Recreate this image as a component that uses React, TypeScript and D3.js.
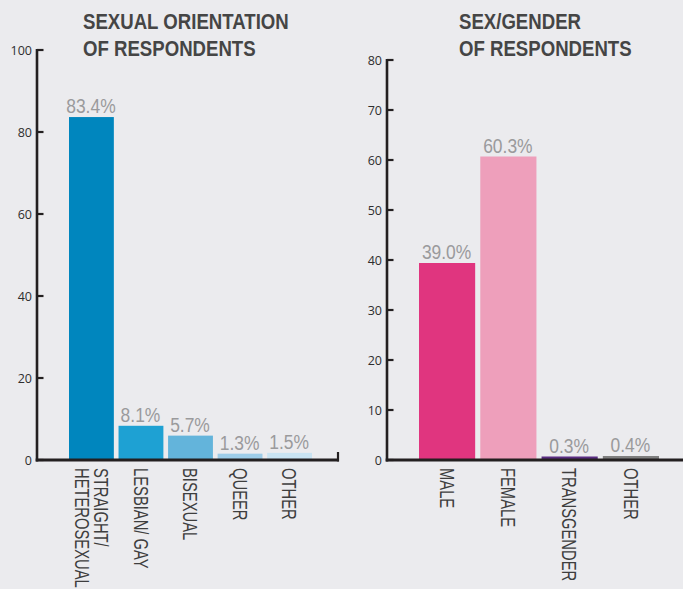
import React from "react";
import * as d3 from "d3";

const orientCategories = ["STRAIGHT/|HETEROSEXUAL", "LESBIAN/ GAY", "BISEXUAL", "QUEER", "OTHER"];
const orientValues = [83.4, 8.1, 5.7, 1.3, 1.5];
const orientColors = ["#0086BE", "#1EA1D3", "#63B4DB", "#9DCCE8", "#C9E3F2"];
const orientTicks = [0, 20, 40, 60, 80, 100];
const orientTitle = ["SEXUAL ORIENTATION", "OF RESPONDENTS"];

const genderCategories = ["MALE", "FEMALE", "TRANSGENDER", "OTHER"];
const genderValues = [39.0, 60.3, 0.3, 0.4];
const genderColors = ["#E0357F", "#EE9FBB", "#5A2D82", "#7F7F7F"];
const genderTicks = [0, 10, 20, 30, 40, 50, 60, 70, 80];
const genderTitle = ["SEX/GENDER", "OF RESPONDENTS"];

const SANS = "'Liberation Sans', Arial, sans-serif";
const TICKFONT = "'Open Sans', 'Noto Sans', sans-serif";
const AXIS = "#231F20";
const SQ = 0.82; // horizontal condensing for titles
const SQV = 0.83; // condensing for value labels
const SQL = 0.72; // condensing for category labels

type PanelProps = {
  cats: string[];
  vals: number[];
  colors: string[];
  ticks: number[];
  title: string[];
  axisX: number;
  axisRight: number;
  yMax: number;
  yTop: number;
  barLift: number;
  bandStart: number;
  bandStep: number;
  barW: number;
  titleX: number;
  endTick: boolean;
};

function Panel(p: PanelProps) {
  const y0 = 460;
  const y = d3.scaleLinear().domain([0, p.yMax]).range([y0, p.yTop]);
  const yb = d3.scaleLinear().domain([0, p.yMax]).range([y0 - p.barLift, p.yTop - p.barLift]);
  const x = d3
    .scaleBand<string>()
    .domain(p.cats)
    .range([p.bandStart, p.bandStart + p.bandStep * p.cats.length])
    .paddingInner((p.bandStep - p.barW) / p.bandStep)
    .paddingOuter(0);
  const fmt = (v: number) => v.toFixed(1) + "%";
  return (
    <g>
      <g transform={`translate(${p.titleX},0) scale(${SQ},1)`}>
        <text fontFamily={SANS} fontWeight="bold" fontSize={22.7} fill="#454545">
          {p.title.map((t, i) => (
            <tspan key={i} x={0} y={29 + i * 27}>
              {t}
            </tspan>
          ))}
        </text>
      </g>
      {/* bars */}
      {p.cats.map((c, i) => {
        const bx = x(c)!;
        const bw = x.bandwidth();
        const top = yb(p.vals[i]);
        return (
          <g key={c}>
            <rect x={bx} y={top} width={bw} height={y0 - top} fill={p.colors[i]} />
            <g transform={`translate(${bx + bw / 2 - 0.5},${top - 4}) scale(${SQV},1)`}>
              <text x={0} y={0} textAnchor="middle" fontFamily={SANS} fontSize={21} fill="#9A9A9C">
                {fmt(p.vals[i])}
              </text>
            </g>
          </g>
        );
      })}
      {/* category labels */}
      {p.cats.map((c) => {
        const lines = c.split("|");
        const cx = x(c)! + x.bandwidth() / 2;
        const lh = 19;
        return (
          <g key={"l" + c} transform={`translate(${cx},${y0 + 8}) rotate(90) scale(${SQL},1)`}>
            <text fontFamily={SANS} fontSize={20.5} fill="#3E3E3E">
              {lines.map((l, i) => (
                <tspan key={i} x={0} y={-((lines.length - 1) * lh) / 2 + i * lh + 7.3}>
                  {l}
                </tspan>
              ))}
            </text>
          </g>
        );
      })}
      {/* y axis */}
      <line x1={p.axisX} x2={p.axisX} y1={y(p.yMax) - 1} y2={y0 + 1.5} stroke={AXIS} strokeWidth={2.6} />
      {p.ticks.map((t) => (
        <g key={t}>
          <line x1={p.axisX} x2={p.axisX + 6.5} y1={y(t)} y2={y(t)} stroke={AXIS} strokeWidth={2.2} />
          <text
            x={p.axisX - 5}
            y={y(t)}
            dy="0.36em"
            textAnchor="end"
            fontFamily={TICKFONT}
            fontSize={12.5}
            fill="#2E2E2E"
          >
            {t}
          </text>
        </g>
      ))}
      {/* x axis */}
      <line x1={p.axisX - 1.3} x2={p.axisRight} y1={y0} y2={y0} stroke={AXIS} strokeWidth={2.8} />
      {p.endTick && (
        <line x1={p.axisRight - 1} x2={p.axisRight - 1} y1={y0 + 1.4} y2={y0 - 8} stroke={AXIS} strokeWidth={2.2} />
      )}
    </g>
  );
}

export default function App() {
  return (
    <svg
      width={683}
      height={589}
      viewBox="0 0 683 589"
      style={{ position: "absolute", left: 0, top: 0, background: "#EBEBEE" }}
    >
      <rect width={683} height={589} fill="#EBEBEE" />
      <Panel
        cats={orientCategories}
        vals={orientValues}
        colors={orientColors}
        ticks={orientTicks}
        title={orientTitle}
        axisX={37}
        axisRight={339}
        yMax={100}
        yTop={50}
        barLift={1}
        bandStart={69}
        bandStep={48.6}
        barW={44}
        titleX={83}
        endTick={true}
      />
      <Panel
        cats={genderCategories}
        vals={genderValues}
        colors={genderColors}
        ticks={genderTicks}
        title={genderTitle}
        axisX={387}
        axisRight={683}
        yMax={80}
        yTop={60}
        barLift={2}
        bandStart={419}
        bandStep={60}
        barW={55}
        titleX={459}
        endTick={false}
      />
    </svg>
  );
}
